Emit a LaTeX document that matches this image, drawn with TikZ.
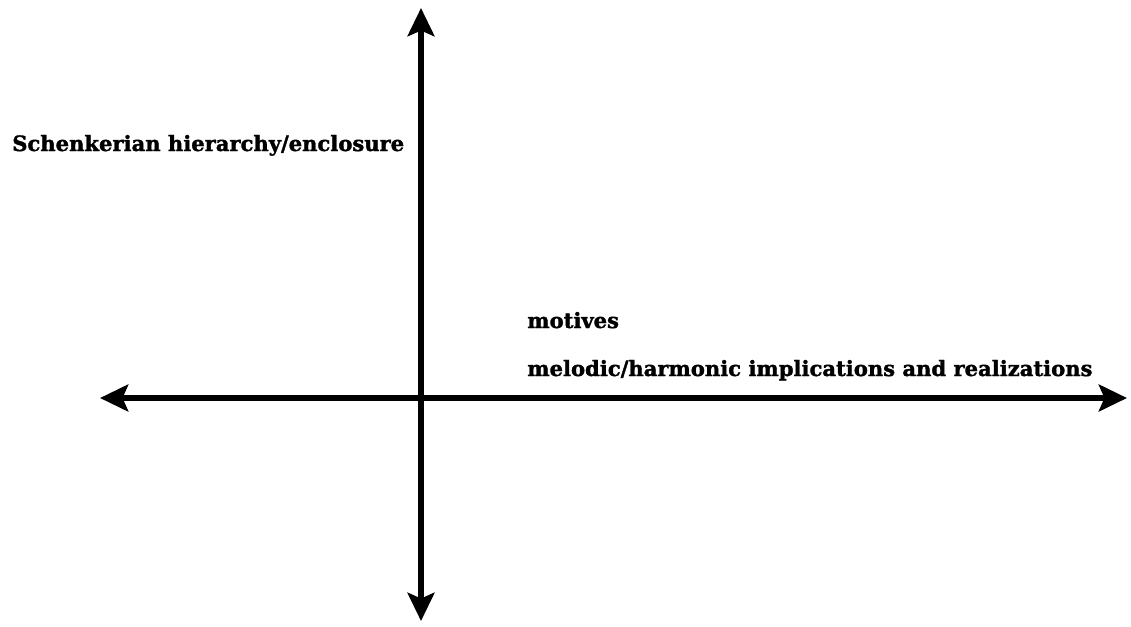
\documentclass[tikz,border=0pt]{standalone}
\usepackage{fontspec}
\setmainfont{DejaVu Serif}
\newfontfamily\heavyfont{DejaVu Serif Bold}[FakeBold=1.6]
\usepackage{tikz}
\usetikzlibrary{arrows.meta,positioning}
\tikzstyle{axis}=[{Stealth[length=20pt,width=19pt,inset=4pt]}-{Stealth[length=20pt,width=19pt,inset=4pt]}, line width=4pt]
\tikzstyle{lbl}=[anchor=base west, inner sep=0pt, font=\heavyfont\fontsize{15}{17}\selectfont]

\begin{document}
\begin{tikzpicture}[x=0.025cm, y=-0.025cm]
\useasboundingbox (0,0) rectangle (1131,626);

% axes
\coordinate (top) at (421,8);
\coordinate (bot) at (421,621);
\coordinate (lft) at (100,398);
\coordinate (rgt) at (1127,398);
\draw[axis] (bot) -- (top);
\draw[axis] (lft) -- (rgt);

% labels
\node[lbl] (schenk) at (12,151) {Schenkerian hierarchy/enclosure};
\node[lbl] (motiv) at (527,328) {motives};
\node[lbl] (impl) at (527,376) {melodic/harmonic implications and realizations};
\end{tikzpicture}
\end{document}
